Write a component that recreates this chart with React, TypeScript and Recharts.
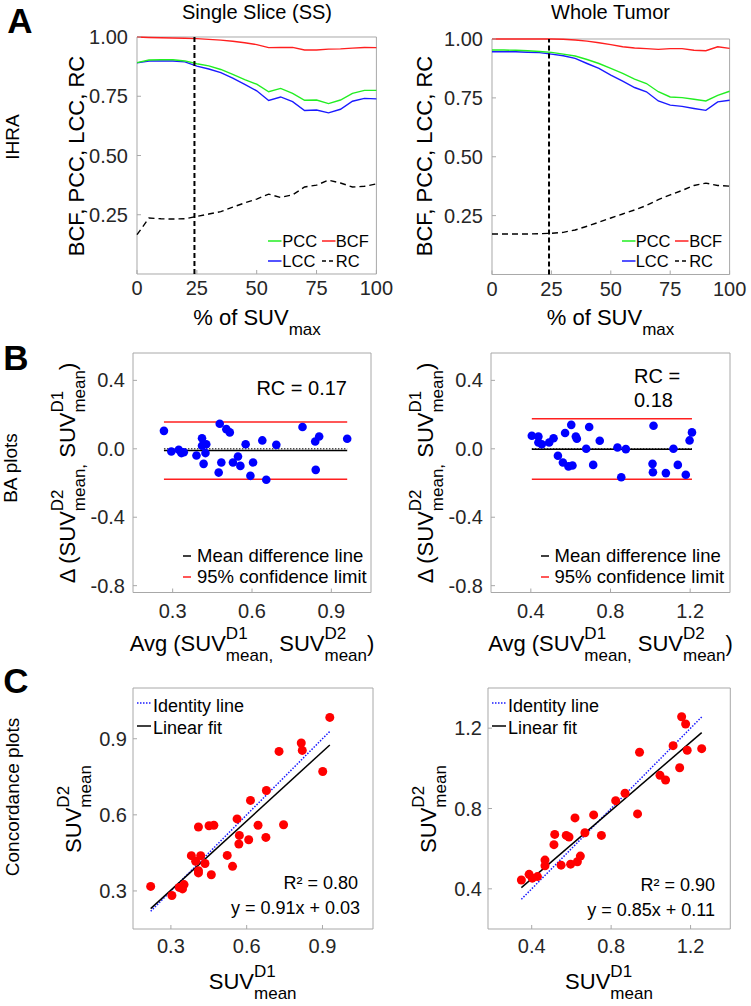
import React from 'react';
import {
  LineChart,
  Line,
  XAxis,
  YAxis,
  ReferenceLine,
  ReferenceArea,
  ScatterChart,
  Scatter,
} from 'recharts';

const FONT = "'Liberation Sans', Arial, Helvetica, sans-serif";
const INK = '#262626';
const BOX = '#a8a8a8';
const GREEN = '#22ee22';
const RED = '#ff1f1f';
const BLUE = '#1a1aff';

// ---------- Panel A data (IHRA vs % of SUVmax) ----------
const pctSUV = [0, 5, 10, 15, 20, 25, 30, 35, 40, 45, 50, 55, 60, 65, 70, 75, 80, 85, 90, 95, 100];
const ssBCF = [1.0, 0.998, 0.997, 0.996, 0.995, 0.993, 0.99, 0.987, 0.982, 0.976, 0.968, 0.955, 0.956, 0.956, 0.945, 0.945, 0.949, 0.95, 0.953, 0.956, 0.955];
const ssPCC = [0.892, 0.903, 0.904, 0.904, 0.899, 0.887, 0.878, 0.863, 0.842, 0.82, 0.801, 0.769, 0.783, 0.762, 0.733, 0.734, 0.719, 0.734, 0.762, 0.775, 0.775];
const ssLCC = [0.891, 0.899, 0.899, 0.899, 0.895, 0.877, 0.865, 0.85, 0.826, 0.8, 0.773, 0.732, 0.747, 0.727, 0.69, 0.692, 0.68, 0.695, 0.729, 0.741, 0.739];
const ssRC = [0.166, 0.236, 0.233, 0.232, 0.233, 0.243, 0.253, 0.263, 0.282, 0.3, 0.316, 0.337, 0.323, 0.334, 0.367, 0.375, 0.396, 0.384, 0.367, 0.37, 0.38];
const wtBCF = [1.0, 1.0, 1.0, 1.0, 1.0, 1.0, 0.999, 0.996, 0.991, 0.984, 0.976, 0.967, 0.962, 0.959, 0.956, 0.959, 0.959, 0.952, 0.95, 0.967, 0.96];
const wtPCC = [0.953, 0.953, 0.952, 0.95, 0.947, 0.943, 0.936, 0.928, 0.913, 0.896, 0.875, 0.854, 0.83, 0.811, 0.776, 0.754, 0.751, 0.744, 0.737, 0.761, 0.778];
const wtLCC = [0.946, 0.946, 0.946, 0.944, 0.942, 0.936, 0.929, 0.918, 0.896, 0.875, 0.847, 0.821, 0.794, 0.776, 0.737, 0.719, 0.714, 0.705, 0.697, 0.733, 0.74];
const wtRC = [0.172, 0.172, 0.172, 0.172, 0.173, 0.175, 0.179, 0.189, 0.205, 0.222, 0.24, 0.257, 0.274, 0.293, 0.318, 0.338, 0.357, 0.378, 0.388, 0.378, 0.375];
const cutoffPct = 24;
const aXTicks = [0, 25, 50, 75, 100];
const aYTicks = [0.25, 0.5, 0.75, 1.0];

// ---------- Panel B data (Bland-Altman) ----------
const ssAvg = [0.267, 0.295, 0.323, 0.333, 0.342, 0.39, 0.411, 0.411, 0.417, 0.424, 0.427, 0.474, 0.478, 0.484, 0.503, 0.516, 0.528, 0.547, 0.556, 0.576, 0.594, 0.604, 0.639, 0.654, 0.692, 0.791, 0.839, 0.841, 0.854, 0.96];
const ssDiff = [0.105, -0.016, -0.006, -0.025, -0.02, -0.039, 0.062, 0.018, -0.088, -0.025, 0.027, -0.139, 0.146, -0.08, 0.115, 0.096, -0.08, -0.045, -0.1, 0.027, -0.158, -0.08, 0.049, -0.181, 0.023, 0.127, 0.043, -0.123, 0.072, 0.059];
const wtAvg = [0.405, 0.438, 0.438, 0.455, 0.492, 0.514, 0.536, 0.561, 0.572, 0.589, 0.603, 0.609, 0.626, 0.631, 0.678, 0.693, 0.713, 0.746, 0.835, 0.854, 0.877, 1.011, 1.013, 1.016, 1.078, 1.116, 1.138, 1.178, 1.197, 1.209];
const wtDiff = [0.076, 0.072, 0.037, 0.027, 0.037, 0.062, -0.041, -0.08, 0.092, -0.103, 0.14, -0.098, 0.072, 0.059, 0.0, 0.127, -0.094, 0.047, 0.008, -0.166, -0.002, -0.088, -0.137, 0.135, -0.142, 0.0, -0.094, -0.152, 0.049, 0.096];
// [mean difference, upper limit, lower limit]
const ssBA = [-0.01, 0.156, -0.178];
const wtBA = [-0.002, 0.176, -0.178];
const bYTicks = [-0.8, -0.4, 0, 0.4];
const bSSXTicks = [0.3, 0.6, 0.9];
const bWTXTicks = [0.4, 0.8, 1.2];

// ---------- Panel C data (concordance) ----------
const ssD1 = [0.22, 0.304, 0.333, 0.346, 0.352, 0.381, 0.398, 0.409, 0.409, 0.409, 0.418, 0.435, 0.451, 0.46, 0.47, 0.523, 0.544, 0.562, 0.571, 0.569, 0.608, 0.615, 0.645, 0.676, 0.678, 0.728, 0.746, 0.816, 0.82, 0.901, 0.929];
const ssD2 = [0.318, 0.282, 0.314, 0.308, 0.325, 0.439, 0.417, 0.552, 0.371, 0.38, 0.439, 0.408, 0.557, 0.364, 0.559, 0.44, 0.397, 0.584, 0.519, 0.485, 0.502, 0.657, 0.559, 0.511, 0.696, 0.85, 0.561, 0.883, 0.854, 0.771, 0.984];
const wtD1 = [0.348, 0.387, 0.403, 0.429, 0.467, 0.467, 0.516, 0.512, 0.548, 0.574, 0.588, 0.596, 0.618, 0.63, 0.645, 0.668, 0.712, 0.751, 0.823, 0.87, 0.933, 0.943, 1.046, 1.074, 1.112, 1.145, 1.155, 1.175, 1.183, 1.256];
const wtD2 = [0.444, 0.472, 0.453, 0.461, 0.543, 0.515, 0.671, 0.62, 0.518, 0.666, 0.658, 0.523, 0.753, 0.535, 0.563, 0.679, 0.768, 0.666, 0.839, 0.876, 0.773, 1.08, 0.965, 0.942, 1.113, 1.003, 1.257, 1.221, 1.09, 1.098];
// [slope, intercept]
const ssFit = [0.91, 0.03];
const wtFit = [0.85, 0.11];
const cSSTicks = [0.3, 0.6, 0.9];
const cWTTicks = [0.4, 0.8, 1.2];

// ---------- layout helpers ----------
type Rect = { x: number; y: number; w: number; h: number };
const YW = 60;
const XH = 40;
const MT = 10;
const MR = 30;

const frameStyle = (p: Rect): React.CSSProperties => ({
  position: 'absolute',
  left: p.x - YW,
  top: p.y - MT,
});
const chartDims = (p: Rect) => ({
  width: p.w + YW + MR,
  height: p.h + MT + XH,
  margin: { top: MT, right: MR, bottom: 0, left: 0 },
});

const tickStyle = { fill: INK, fontSize: 20, fontFamily: FONT };

const dotShape = (color: string, r: number) => (props: any) =>
  props.cx == null ? <g /> : <circle cx={props.cx} cy={props.cy} r={r} fill={color} />;

// ---------- Panel A ----------
function IhraChart({ plot, bcf, pcc, lcc, rc }: { plot: Rect; bcf: number[]; pcc: number[]; lcc: number[]; rc: number[] }) {
  const data = pctSUV.map((x, i) => ({ x, bcf: bcf[i], pcc: pcc[i], lcc: lcc[i], rc: rc[i] }));
  const d = chartDims(plot);
  return (
    <div style={frameStyle(plot)}>
      <LineChart width={d.width} height={d.height} margin={d.margin} data={data}>
        <XAxis
          type="number"
          dataKey="x"
          domain={[0, 100]}
          ticks={aXTicks}
          interval={0}
          height={XH}
          axisLine={false}
          tickLine={{ stroke: BOX }}
          tickSize={-4}
          tickMargin={11}
          tick={tickStyle}
        />
        <YAxis
          type="number"
          domain={[0, 1]}
          ticks={aYTicks}
          interval={0}
          width={YW}
          axisLine={false}
          tickLine={{ stroke: BOX }}
          tickSize={-4}
          tickMargin={13}
          tick={tickStyle}
          tickFormatter={(v: number) => v.toFixed(2)}
        />
        <ReferenceArea x1={0} x2={100} y1={0} y2={1} fill="none" stroke={BOX} strokeWidth={1} ifOverflow="visible" />
        <Line type="linear" dataKey="rc" stroke="#000" strokeWidth={1.4} strokeDasharray="6 4" dot={false} isAnimationActive={false} />
        <Line type="linear" dataKey="lcc" stroke={BLUE} strokeWidth={1.4} dot={false} isAnimationActive={false} />
        <Line type="linear" dataKey="pcc" stroke={GREEN} strokeWidth={1.4} dot={false} isAnimationActive={false} />
        <Line type="linear" dataKey="bcf" stroke={RED} strokeWidth={1.4} dot={false} isAnimationActive={false} />
        <ReferenceLine x={cutoffPct} stroke="#000" strokeWidth={2} strokeDasharray="5 3" ifOverflow="visible" />
      </LineChart>
    </div>
  );
}

// ---------- Panel B ----------
function BAChart({
  plot, avg, diff, ba, xDomain, xTicks,
}: { plot: Rect; avg: number[]; diff: number[]; ba: number[]; xDomain: number[]; xTicks: number[] }) {
  const pts = avg.map((x, i) => ({ x, y: diff[i] }));
  const xmin = Math.min(...avg);
  const xmax = Math.max(...avg);
  const d = chartDims(plot);
  const yDomain = [-0.84, 0.56];
  return (
    <div style={frameStyle(plot)}>
      <ScatterChart width={d.width} height={d.height} margin={d.margin}>
        <XAxis
          type="number"
          dataKey="x"
          domain={xDomain}
          ticks={xTicks}
          interval={0}
          allowDataOverflow
          height={XH}
          axisLine={false}
          tickLine={{ stroke: BOX }}
          tickSize={-4}
          tickMargin={15}
          tick={tickStyle}
          tickFormatter={(v: number) => v.toFixed(1)}
        />
        <YAxis
          type="number"
          dataKey="y"
          domain={yDomain}
          ticks={bYTicks}
          interval={0}
          allowDataOverflow
          width={YW}
          axisLine={false}
          tickLine={{ stroke: BOX }}
          tickSize={-4}
          tickMargin={12}
          tick={tickStyle}
          tickFormatter={(v: number) => v.toFixed(1)}
        />
        <ReferenceArea x1={xDomain[0]} x2={xDomain[1]} y1={yDomain[0]} y2={yDomain[1]} fill="none" stroke={BOX} ifOverflow="visible" />
        <ReferenceLine segment={[{ x: xmin, y: ba[1] }, { x: xmax, y: ba[1] }]} stroke={RED} strokeWidth={1.5} ifOverflow="visible" />
        <ReferenceLine segment={[{ x: xmin, y: ba[2] }, { x: xmax, y: ba[2] }]} stroke={RED} strokeWidth={1.5} ifOverflow="visible" />
        <ReferenceLine segment={[{ x: xmin, y: 0 }, { x: xmax, y: 0 }]} stroke="#000" strokeWidth={1} strokeDasharray="1.5 1.5" ifOverflow="visible" />
        <ReferenceLine segment={[{ x: xmin, y: ba[0] }, { x: xmax, y: ba[0] }]} stroke="#000" strokeWidth={1.5} ifOverflow="visible" />
        <Scatter data={pts} fill={BLUE} shape={dotShape('#0000ff', 4.3)} isAnimationActive={false} />
      </ScatterChart>
    </div>
  );
}

// ---------- Panel C ----------
function ConcChart({
  plot, d1, d2, fit, xDomain, yDomain, ticks,
}: { plot: Rect; d1: number[]; d2: number[]; fit: number[]; xDomain: number[]; yDomain: number[]; ticks: number[] }) {
  const pts = d1.map((x, i) => ({ x, y: d2[i] }));
  const xmin = Math.min(...d1);
  const xmax = Math.max(...d1);
  const d = chartDims(plot);
  return (
    <div style={frameStyle(plot)}>
      <ScatterChart width={d.width} height={d.height} margin={d.margin}>
        <XAxis
          type="number"
          dataKey="x"
          domain={xDomain}
          ticks={ticks}
          interval={0}
          allowDataOverflow
          height={XH}
          axisLine={false}
          tickLine={{ stroke: BOX }}
          tickSize={-4}
          tickMargin={14}
          tick={tickStyle}
          tickFormatter={(v: number) => v.toFixed(1)}
        />
        <YAxis
          type="number"
          dataKey="y"
          domain={yDomain}
          ticks={ticks}
          interval={0}
          allowDataOverflow
          width={YW}
          axisLine={false}
          tickLine={{ stroke: BOX }}
          tickSize={-4}
          tickMargin={10}
          tick={tickStyle}
          tickFormatter={(v: number) => v.toFixed(1)}
        />
        <ReferenceArea x1={xDomain[0]} x2={xDomain[1]} y1={yDomain[0]} y2={yDomain[1]} fill="none" stroke={BOX} ifOverflow="visible" />
        <Scatter data={pts} fill={RED} shape={dotShape('#ff0000', 4.5)} isAnimationActive={false} />
        <ReferenceLine segment={[{ x: xmin, y: xmin }, { x: xmax, y: xmax }]} stroke={BLUE} strokeWidth={1.5} strokeDasharray="1.5 1.5" ifOverflow="visible" />
        <ReferenceLine
          segment={[{ x: xmin, y: fit[0] * xmin + fit[1] }, { x: xmax, y: fit[0] * xmax + fit[1] }]}
          stroke="#000"
          strokeWidth={1.5}
          ifOverflow="visible"
        />
      </ScatterChart>
    </div>
  );
}

// ---------- text overlay helpers ----------
function T({
  x, y, fs, children, anchor = 'middle', rotate = false, bold = false, color = '#000',
}: { x: number; y: number; fs: number; children: React.ReactNode; anchor?: string; rotate?: boolean; bold?: boolean; color?: string }) {
  const tx = anchor === 'middle' ? '-50%' : anchor === 'end' ? '-100%' : '0%';
  return (
    <div
      style={{
        position: 'absolute',
        left: x,
        top: y,
        transform: rotate ? 'translate(-50%,-50%) rotate(-90deg)' : `translate(${tx},-50%)`,
        fontSize: fs,
        fontFamily: FONT,
        fontWeight: bold ? 'bold' : 'normal',
        color,
        whiteSpace: 'nowrap',
        lineHeight: 'normal',
      }}
    >
      {children}
    </div>
  );
}

function SS({ sup, sub }: { sup?: string; sub: string }) {
  return (
    <span style={{ display: 'inline-block', position: 'relative', fontSize: 17, lineHeight: 'normal' }}>
      <span style={{ position: 'relative', top: 10 }}>{sub}</span>
      {sup ? <span style={{ position: 'absolute', left: 0, top: -12 }}>{sup}</span> : null}
    </span>
  );
}

function Seg({ x1, x2, y, color, dash, w = 1.5 }: { x1: number; x2: number; y: number; color: string; dash?: string; w?: number }) {
  return (
    <svg
      style={{ position: 'absolute', left: x1, top: y - 3, overflow: 'visible' }}
      width={x2 - x1}
      height={6}
    >
      <line x1={0} y1={3} x2={x2 - x1} y2={3} stroke={color} strokeWidth={w} strokeDasharray={dash} />
    </svg>
  );
}

const plotA1: Rect = { x: 137.3, y: 37, w: 239.4, h: 237 };
const plotA2: Rect = { x: 491.7, y: 38.5, w: 237.6, h: 235.5 };
const plotB1: Rect = { x: 133.3, y: 353.3, w: 238, h: 239.5 };
const plotB2: Rect = { x: 491, y: 353.3, w: 239, h: 239.5 };
const plotC1: Rect = { x: 132.7, y: 688.3, w: 240, h: 241 };
const plotC2: Rect = { x: 487.7, y: 688.3, w: 242.3, h: 241 };

function IhraLegend({ x0 }: { x0: number }) {
  return (
    <>
      <Seg x1={x0} x2={x0 + 13.5} y={241} color={GREEN} />
      <T x={x0 + 14} y={241} fs={16.5} anchor="start">PCC</T>
      <Seg x1={x0 + 53.5} x2={x0 + 67} y={241} color={RED} />
      <T x={x0 + 67.5} y={241} fs={16.5} anchor="start">BCF</T>
      <Seg x1={x0} x2={x0 + 13.5} y={261} color={BLUE} />
      <T x={x0 + 14} y={261} fs={16.5} anchor="start">LCC</T>
      <Seg x1={x0 + 53.5} x2={x0 + 67} y={261} color="#000" dash="4 3" />
      <T x={x0 + 67.5} y={261} fs={16.5} anchor="start">RC</T>
    </>
  );
}

function BALegend({ x0 }: { x0: number }) {
  return (
    <>
      <Seg x1={x0} x2={x0 + 8} y={556} color="#000" />
      <T x={x0 + 14} y={556} fs={18.5} anchor="start">Mean difference line</T>
      <Seg x1={x0} x2={x0 + 8} y={577} color={RED} />
      <T x={x0 + 14} y={577} fs={18.5} anchor="start">95% confidence limit</T>
    </>
  );
}

function ConcLegend({ x0 }: { x0: number }) {
  return (
    <>
      <Seg x1={x0} x2={x0 + 14} y={703} color={BLUE} dash="1.5 1.5" />
      <T x={x0 + 16} y={705.5} fs={18} anchor="start">Identity line</T>
      <Seg x1={x0} x2={x0 + 14} y={726} color="#000" />
      <T x={x0 + 16} y={728} fs={18} anchor="start">Linear fit</T>
    </>
  );
}

export default function App() {
  return (
    <div
      style={{
        position: 'absolute',
        left: 0,
        top: 0,
        width: 751,
        height: 1006,
        background: '#fff',
        overflow: 'hidden',
        fontFamily: FONT,
      }}
    >
      <IhraChart plot={plotA1} bcf={ssBCF} pcc={ssPCC} lcc={ssLCC} rc={ssRC} />
      <IhraChart plot={plotA2} bcf={wtBCF} pcc={wtPCC} lcc={wtLCC} rc={wtRC} />
      <BAChart plot={plotB1} avg={ssAvg} diff={ssDiff} ba={ssBA} xDomain={[0.15, 1.05]} xTicks={bSSXTicks} />
      <BAChart plot={plotB2} avg={wtAvg} diff={wtDiff} ba={wtBA} xDomain={[0.2, 1.4]} xTicks={bWTXTicks} />
      <ConcChart plot={plotC1} d1={ssD1} d2={ssD2} fit={ssFit} xDomain={[0.15, 1.1]} yDomain={[0.15, 1.1]} ticks={cSSTicks} />
      <ConcChart plot={plotC2} d1={wtD1} d2={wtD2} fit={wtFit} xDomain={[0.18, 1.4]} yDomain={[0.2, 1.4]} ticks={cWTTicks} />

      {/* panel letters and row labels */}
      <T x={20} y={21} fs={35} bold>A</T>
      <T x={16} y={358} fs={35} bold>B</T>
      <T x={16} y={681} fs={35} bold>C</T>
      <T x={13} y={137} fs={19} rotate>IHRA</T>
      <T x={11} y={468} fs={19} rotate>BA plots</T>
      <T x={13} y={797} fs={19} rotate>Concordance plots</T>

      {/* Panel A texts */}
      <T x={257} y={12} fs={20}>Single Slice (SS)</T>
      <T x={610.5} y={12} fs={20}>Whole Tumor</T>
      <T x={77} y={155.5} fs={22} rotate>BCF, PCC, LCC, RC</T>
      <T x={425} y={156} fs={22} rotate>BCF, PCC, LCC, RC</T>
      <T x={257} y={318} fs={22}>% of SUV<SS sub="max" /></T>
      <T x={610.5} y={318} fs={22}>% of SUV<SS sub="max" /></T>
      <IhraLegend x0={268.3} />
      <IhraLegend x0={621.7} />

      {/* Panel B texts */}
      <T x={347} y={387.5} fs={20} anchor="end">RC = 0.17</T>
      <T x={634} y={375.5} fs={20} anchor="start">RC =</T>
      <T x={634} y={399.5} fs={20} anchor="start">0.18</T>
      <BALegend x0={183} />
      <BALegend x0={540.5} />
      <T x={68} y={473} fs={22} rotate>
        Δ (SUV<SS sup="D2" sub="mean," /> SUV<SS sup="D1" sub="mean" />)
      </T>
      <T x={426} y={473} fs={22} rotate>
        Δ (SUV<SS sup="D2" sub="mean," /> SUV<SS sup="D1" sub="mean" />)
      </T>
      <T x={252} y={643.5} fs={22}>
        Avg (SUV<SS sup="D1" sub="mean," /> SUV<SS sup="D2" sub="mean" />)
      </T>
      <T x={610.5} y={643.5} fs={22}>
        Avg (SUV<SS sup="D1" sub="mean," /> SUV<SS sup="D2" sub="mean" />)
      </T>

      {/* Panel C texts */}
      <ConcLegend x0={137} />
      <ConcLegend x0={492} />
      <T x={358} y={883} fs={18} anchor="end">R² = 0.80</T>
      <T x={360} y={907.5} fs={18} anchor="end">y = 0.91x + 0.03</T>
      <T x={715} y={884.5} fs={18} anchor="end">R² = 0.90</T>
      <T x={715} y={910} fs={18} anchor="end">y = 0.85x + 0.11</T>
      <T x={74} y={809} fs={22} rotate>SUV<SS sup="D2" sub="mean" /></T>
      <T x={429} y={809} fs={22} rotate>SUV<SS sup="D2" sub="mean" /></T>
      <T x={252.7} y={982} fs={22}>SUV<SS sup="D1" sub="mean" /></T>
      <T x={609} y={982} fs={22}>SUV<SS sup="D1" sub="mean" /></T>
    </div>
  );
}
